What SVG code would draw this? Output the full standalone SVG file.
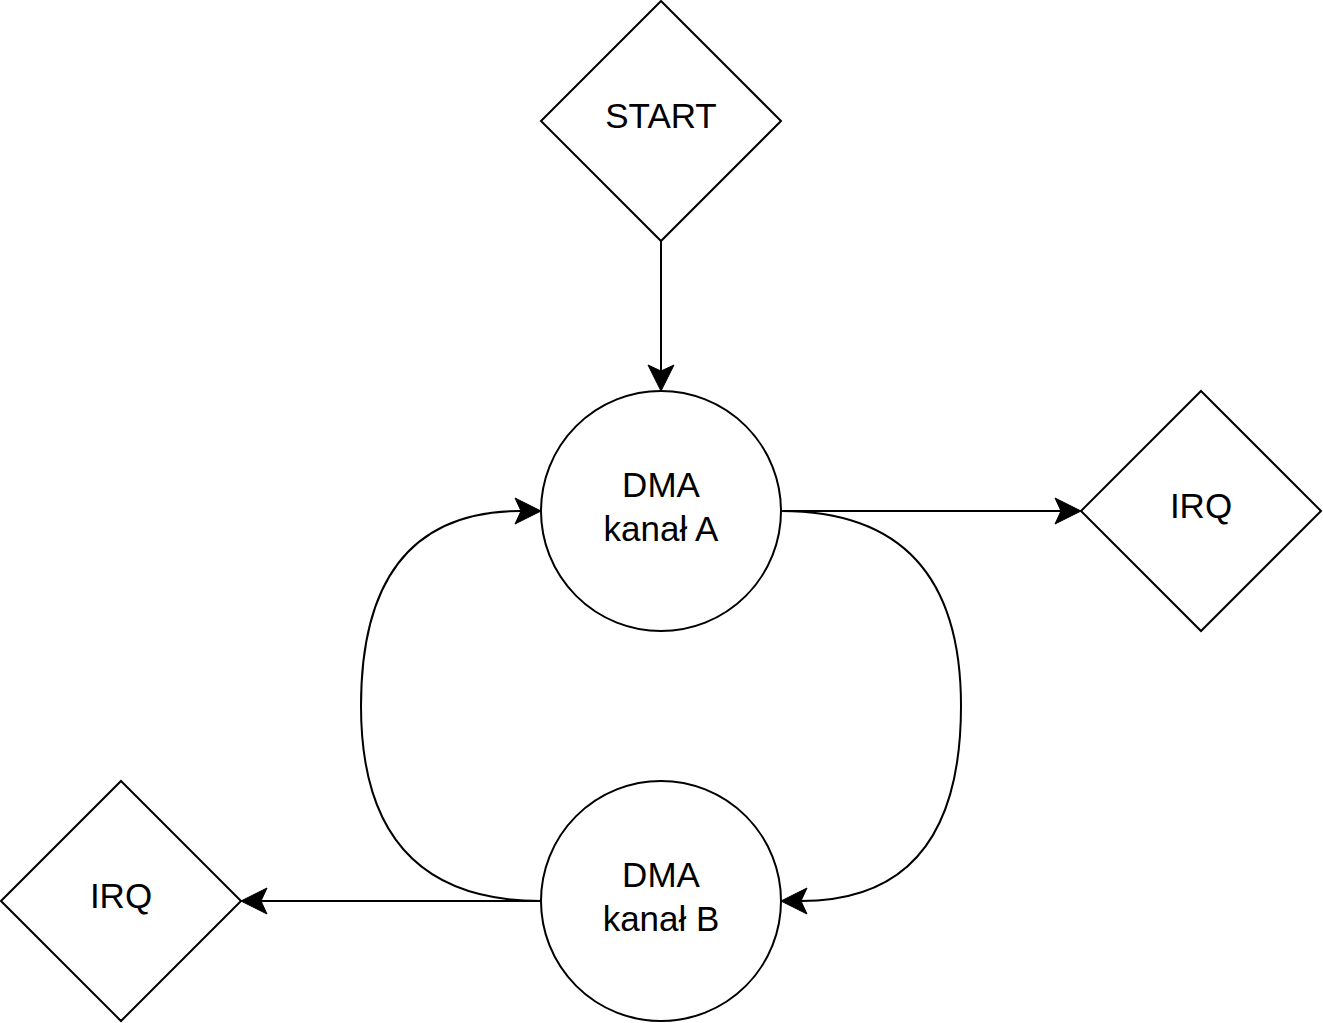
<svg xmlns="http://www.w3.org/2000/svg" width="1323" height="1023" viewBox="0 0 1323 1023">
<style>
.shape{fill:#ffffff;stroke:#000000;stroke-width:2}
.edge{fill:none;stroke:#000000;stroke-width:2}
.lbl{font-family:"Liberation Sans",Arial,Helvetica,sans-serif;font-size:35px;fill:#000000;text-anchor:middle}
</style>
<defs>
<marker id="arrow" markerUnits="userSpaceOnUse" markerWidth="30" markerHeight="30" viewBox="0 0 30 30" refX="6" refY="13" orient="auto" overflow="visible">
<path d="M26,13 L0,0 L6,13 L0,26 Z" fill="#000000" stroke="#000000" stroke-width="1" stroke-linejoin="miter"/>
</marker>
</defs>
<rect x="0" y="0" width="1323" height="1023" fill="#ffffff"/>
<g id="connectors">
<path class="edge" d="M661,241 L661,371" marker-end="url(#arrow)"/>
<path class="edge" d="M781,511 L1061,511" marker-end="url(#arrow)"/>
<path class="edge" d="M781,511 Q961,511 961,706 Q961,901 801,901" marker-end="url(#arrow)"/>
<path class="edge" d="M541,901 Q361,901 361,706 Q361,511 521,511" marker-end="url(#arrow)"/>
<path class="edge" d="M541,901 L261,901" marker-end="url(#arrow)"/>
</g>
<g id="start">
<polygon class="shape" points="661,1 781,121 661,241 541,121"/>
<text class="lbl" x="661" y="128">START</text>
</g>
<g id="dma-a">
<circle class="shape" cx="661" cy="511" r="120"/>
<text class="lbl" x="661" y="497">DMA</text>
<text class="lbl" x="661" y="541">kanał A</text>
</g>
<g id="dma-b">
<circle class="shape" cx="661" cy="901" r="120"/>
<text class="lbl" x="661" y="887">DMA</text>
<text class="lbl" x="661" y="931">kanał B</text>
</g>
<g id="irq-right">
<polygon class="shape" points="1201,391 1321,511 1201,631 1081,511"/>
<text class="lbl" x="1201" y="518">IRQ</text>
</g>
<g id="irq-left">
<polygon class="shape" points="121,781 241,901 121,1021 1,901"/>
<text class="lbl" x="121" y="908">IRQ</text>
</g>
</svg>
